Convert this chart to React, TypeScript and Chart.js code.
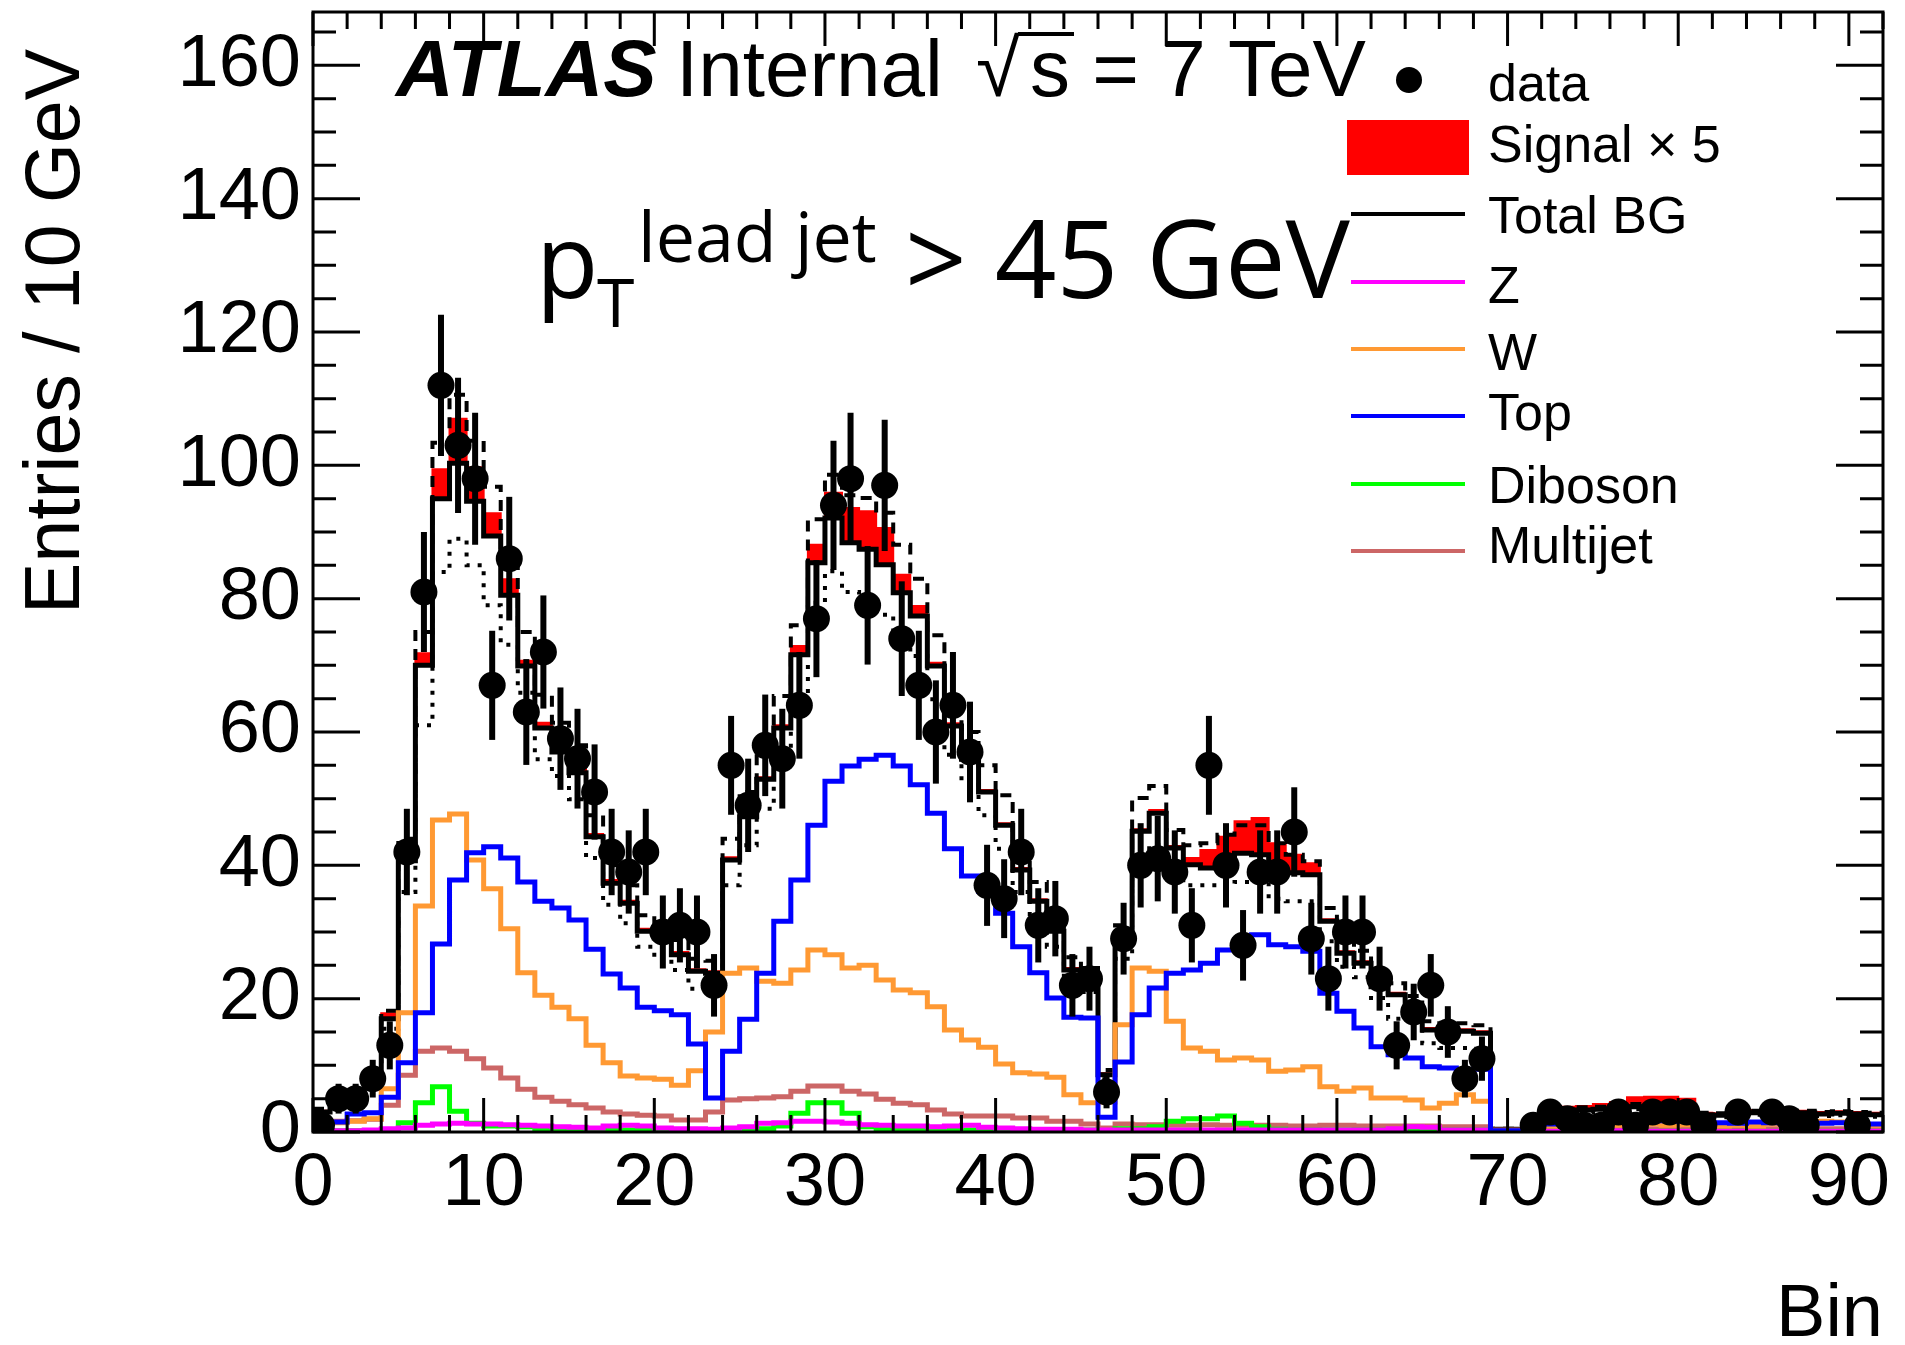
import React, { useEffect, useRef } from 'react';
import { Chart, registerables } from 'chart.js';

Chart.register(...registerables);

// ---------------- data (92 bins of width 1 from 0 to 92) ----------------
const NBINS = 92;

const dataCounts: (number | null)[] = [
  1, 5, 5, 8, 13, 42, 81, 112, 103, 98,
  67, 86, 63, 72, 59, 56, 51, 42, 39, 42,
  30, 31, 30, 22, 55, 49, 58, 56, 64, 77,
  94, 98, 79, 97, 74, 67, 60, 64, 57, 37,
  35, 42, 31, 32, 22, 23, 6, 29, 40, 41,
  39, 31, 55, 40, 28, 39, 39, 45, 29, 23,
  30, 30, 23, 13, 18, 22, 15, 8, 11, null,
  null, 1, 3, 2, 1, 1, 3, 1, 3, 3,
  3, 1, null, 3, null, 3, 2, 1, null, null,
  1, null,
];

const totalBG = [
  3, 4.5, 5, 8, 17, 40.7, 70, 95, 100.3, 94.6,
  89.4, 80.5, 69.9, 60.6, 57, 53.9, 44.3, 37.3, 34.3, 30.1,
  29.1, 26.6, 24.1, 23.8, 40.8, 47.3, 52.9, 60.6, 71.6, 85.4,
  92.1, 88.4, 87.4, 85.1, 80.9, 77.4, 69.9, 60.9, 55.9, 51,
  46, 39.3, 34.6, 30.1, 24.3, 22.8, 8.6, 28.5, 45.1, 47.8,
  42.6, 40.1, 39.6, 40.6, 41.8, 41.6, 39.6, 38.9, 38.6, 31.6,
  26.8, 25.3, 21.8, 20.6, 18.9, 15.3, 15.1, 15.1, 14.8, 0.4,
  0.4, 1.5, 3.0, 3.2, 3.3, 3.4, 3.5, 3.8, 3.8, 3.8,
  3.7, 2.6, 2.5, 2.8, 2.9, 2.8, 2.8, 2.9, 2.7, 2.8,
  2.7, 2.6,
];

const signalX5 = [
  0.2, 0.3, 0.3, 0.5, 0.8, 1.2, 1.8, 4.4, 6.7, 5.1,
  3.4, 2.4, 0.8, 0.8, 0.6, 0.5, 0.4, 0.5, 0.4, 0.4,
  0.4, 0.4, 0.3, 0.3, 0.4, 0.4, 0.3, 0.4, 1.3, 2.7,
  3.8, 5.2, 5.7, 5.5, 2.7, 1.5, 0.5, 0.4, 0.4, 0.3,
  0.3, 0.3, 0.3, 0.3, 0.3, 0.3, 0.2, 0.3, 0.3, 0.5,
  0.3, 1.0, 2.7, 3.7, 4.8, 5.5, 3.7, 2.7, 1.7, 0.3,
  0.3, 0.3, 0.3, 0.3, 0.3, 0.3, 0.3, 0.3, 0.3, 0.1,
  0.1, 0.3, 0.5, 0.6, 0.6, 0.8, 1.0, 1.4, 1.5, 1.5,
  1.3, 0.3, 0.3, 0.4, 0.4, 0.5, 0.4, 0.3, 0.3, 0.3,
  0.3, 0.3,
];

const bgUp = [
  3.5, 5, 5.5, 9, 18.2, 44, 75, 103.4, 110.6, 103.7,
  96.8, 86, 75, 65.6, 61.4, 58, 47.5, 40, 37, 32.5,
  31.5, 28.8, 26, 25.7, 44, 51, 57, 65.4, 76, 91.9,
  98.6, 95.5, 95.1, 92.9, 88.1, 83, 74.5, 65.5, 60, 55,
  50.5, 43, 37.5, 32.5, 26.2, 24.6, 9.3, 31, 50.1, 51.9,
  45.3, 43, 43.3, 44.6, 46, 46, 43.3, 41.6, 40.6, 33.6,
  28.8, 27.2, 23.5, 22.3, 20.4, 16.6, 16.4, 16.3, 16.0, 0.5,
  0.5, 1.7, 3.4, 3.6, 3.7, 3.8, 3.9, 4.2, 4.2, 4.2,
  4.1, 2.9, 2.8, 3.1, 3.2, 3.1, 3.1, 3.2, 3.0, 3.1,
  3.0, 2.9,
];

const bgDown = [
  2.5, 4, 4.5, 7, 15.5, 36, 61, 84, 89, 85,
  79, 73.1, 65.9, 55.9, 53.4, 49.9, 41.1, 34.1, 31.3, 27.8,
  26, 24.3, 21.5, 21, 37, 43, 48.5, 55.5, 65.5, 79.4,
  84.1, 81, 80.5, 77.6, 74.5, 71.4, 64.9, 56.6, 52.5, 47.5,
  42.5, 36, 31.8, 27.8, 22.4, 21, 7.9, 26, 41, 43,
  38.5, 37, 37, 37, 37.5, 37.5, 35, 34.6, 34.6, 28.6,
  24.8, 23.2, 20.1, 17, 16.8, 13.3, 12.6, 12.6, 12.5, 0.3,
  0.3, 1.3, 2.6, 2.8, 2.9, 3.0, 3.1, 3.4, 3.4, 3.4,
  3.3, 2.3, 2.2, 2.5, 2.6, 2.5, 2.5, 2.6, 2.4, 2.5,
  2.4, 2.3,
];

const zBG = [
  0.2, 0.2, 0.2, 0.3, 0.5, 0.6, 1.0, 1.2, 1.3, 1.2,
  1.2, 1.1, 1.0, 0.9, 0.8, 0.7, 0.6, 0.9, 1.0, 0.9,
  0.6, 0.5, 0.5, 0.4, 0.6, 0.8, 1.3, 1.4, 1.6, 1.6,
  1.5, 1.3, 1.1, 1.0, 0.9, 0.9, 0.8, 0.9, 1.0, 0.7,
  0.6, 0.5, 0.4, 0.4, 0.4, 0.3, 0.3, 0.3, 0.3, 0.3,
  0.3, 0.3, 0.3, 0.3, 0.3, 0.3, 0.3, 0.3, 0.3, 0.3,
  0.3, 0.3, 0.3, 0.5, 0.8, 0.7, 0.3, 0.3, 0.3, 0.1,
  0.1, 0.1, 0.1, 0.1, 0.3, 0.3, 0.2, 0.1, 0.1, 0.1,
  0.1, 0.1, 0.1, 0.1, 0.1, 0.1, 0.1, 0.1, 0.1, 0.1,
  0.1, 0.1,
];

const wBG = [
  1.2, 1.4, 1.6, 2.0, 6.5, 17.9, 33.9, 46.8, 47.7, 40.8,
  36.5, 30.5, 23.9, 20.5, 18.7, 17.0, 13.0, 10.4, 8.4, 8.1,
  7.9, 7.0, 9.2, 15.0, 23.8, 24.6, 22.6, 22.3, 24.3, 27.3,
  26.6, 24.6, 25.0, 22.8, 21.3, 20.9, 18.8, 15.3, 13.8, 12.7,
  10.2, 8.9, 8.7, 8.2, 5.6, 4.4, 4.5, 16.1, 24.6, 24.1,
  16.6, 12.6, 12.1, 10.8, 11.1, 10.8, 9.1, 9.3, 9.8, 6.8,
  6.1, 6.6, 5.1, 5.1, 4.8, 3.6, 4.3, 5.6, 4.6, 0.1,
  0.1, 0.4, 0.9, 1.0, 0.8, 1.1, 1.0, 0.9, 1.2, 1.0,
  1.1, 0.7, 0.9, 1.0, 0.9, 1.2, 1.4, 1.1, 1.6, 1.5,
  1.2, 1.0,
];

const topBG = [
  1.2, 1.5, 2.7, 2.9, 5.2, 10.4, 17.9, 28.2, 37.8, 41.9,
  42.8, 41.1, 37.5, 34.6, 33.6, 31.8, 27.4, 23.7, 21.6, 18.7,
  18.2, 17.6, 13.2, 5.1, 12.1, 16.9, 23.8, 31.6, 37.8, 46.0,
  52.6, 54.9, 55.9, 56.5, 54.9, 52.1, 47.8, 42.5, 38.4, 36.1,
  32.8, 27.8, 23.9, 20.1, 17.2, 17.1, 2.2, 10.5, 17.6, 21.6,
  23.8, 24.3, 25.3, 27.3, 28.8, 29.6, 28.1, 27.8, 27.1, 20.8,
  18.1, 15.6, 12.8, 11.6, 11.1, 9.8, 9.6, 9.1, 9.4, 0.2,
  0.2, 0.6, 1.2, 1.4, 1.3, 1.5, 1.5, 1.6, 1.8, 1.7,
  1.6, 1.3, 1.4, 1.3, 1.5, 1.4, 1.3, 1.2, 1.3, 1.4,
  1.3, 1.2,
];

const dibosonBG = [
  0.2, 0.2, 0.2, 0.2, 0.3, 1.4, 4.4, 6.8, 3.1, 1.3,
  0.9, 0.9, 0.8, 0.4, 0.3, 0.3, 0.3, 0.3, 0.3, 0.3,
  0.3, 0.3, 0.3, 0.3, 0.3, 0.4, 0.5, 0.9, 2.8, 4.4,
  4.4, 2.8, 0.8, 0.4, 0.3, 0.3, 0.3, 0.3, 0.3, 0.3,
  0.3, 0.3, 0.3, 0.3, 0.3, 0.3, 0.2, 0.5, 0.5, 0.8,
  1.6, 2.0, 2.0, 2.4, 1.3, 0.8, 0.4, 0.3, 0.3, 0.3,
  0.3, 0.3, 0.3, 0.3, 0.3, 0.3, 0.3, 0.3, 0.3, 0.1,
  0.1, 0.1, 0.1, 0.1, 0.1, 0.1, 0.1, 0.1, 0.1, 0.1,
  0.1, 0.1, 0.1, 0.1, 0.1, 0.1, 0.1, 0.1, 0.1, 0.1,
  0.1, 0.1,
];

const multijetBG = [
  1.5, 1.6, 1.7, 1.9, 4.0, 8.5, 12.1, 12.6, 12.1, 11.0,
  9.6, 8.1, 6.4, 5.2, 4.6, 4.1, 3.6, 3.0, 2.7, 2.5,
  2.4, 1.8, 1.8, 3.0, 4.8, 5.0, 5.1, 5.3, 6.1, 6.9,
  6.9, 6.1, 5.7, 4.9, 4.3, 4.1, 3.3, 2.7, 2.4, 2.4,
  2.4, 2.1, 2.1, 1.6, 1.6, 1.2, 0.6, 1.2, 1.1, 1.1,
  1.0, 1.0, 1.1, 1.0, 1.0, 1.0, 1.0, 0.9, 0.9, 1.0,
  1.0, 0.9, 0.9, 0.9, 0.9, 0.9, 0.8, 0.8, 0.8, 0.3,
  0.3, 0.5, 0.5, 0.5, 0.5, 0.5, 0.5, 0.5, 0.5, 0.5,
  0.5, 0.5, 0.5, 0.5, 0.5, 0.5, 0.5, 0.5, 0.5, 0.5,
  0.5, 0.5,
];

const xTicks = [0, 10, 20, 30, 40, 50, 60, 70, 80, 90];
const yTicks = [0, 20, 40, 60, 80, 100, 120, 140, 160];
const X_MAX = 92;
const Y_MAX = 168;

const legendLabels = ['data', 'Signal × 5', 'Total BG', 'Z', 'W', 'Top', 'Diboson', 'Multijet'];

// ---------------- styles ----------------
const FONT = '"Liberation Sans", Arial, Helvetica, sans-serif';
const FONT2 = '"Open Sans", "DejaVu Sans", sans-serif';
const C_Z = '#ff00ff';
const C_W = '#ff9933';
const C_TOP = '#0000ff';
const C_DIB = '#00ff00';
const C_MJ = '#cc6666';
const C_SIG = '#ff0000';
const LW = 5;

function stepPoints(vals: number[]) {
  const pts = vals.map((v, i) => ({ x: i, y: v }));
  pts.push({ x: vals.length, y: vals[vals.length - 1] });
  return pts;
}

const overlayPlugin = {
  id: 'rootOverlay',
  afterDatasetsDraw(chart: any) {
    const ctx = chart.ctx;
    const xs = chart.scales.x;
    const ys = chart.scales.y;
    ctx.save();
    ctx.strokeStyle = '#000';
    ctx.lineWidth = 6;
    ctx.lineCap = 'butt';
    dataCounts.forEach((n, i) => {
      if (n === null) return;
      const err = Math.sqrt(n);
      const px = xs.getPixelForValue(i + 0.5);
      ctx.beginPath();
      ctx.moveTo(px, ys.getPixelForValue(Math.max(0, n - err)));
      ctx.lineTo(px, ys.getPixelForValue(n + err));
      ctx.stroke();
    });
    ctx.restore();
  },
  afterDraw(chart: any) {
    const ctx = chart.ctx;
    const xs = chart.scales.x;
    const ys = chart.scales.y;
    const { left, right, top, bottom } = chart.chartArea;
    ctx.save();
    // frame
    ctx.strokeStyle = '#000';
    ctx.lineWidth = 3;
    ctx.strokeRect(left, top, right - left, bottom - top);
    // ticks (inside the frame, on all four sides)
    ctx.beginPath();
    for (let v = 0; v <= X_MAX; v += 2) {
      const px = xs.getPixelForValue(v);
      const len = v % 10 === 0 ? 34 : 17;
      ctx.moveTo(px, bottom);
      ctx.lineTo(px, bottom - len);
      ctx.moveTo(px, top);
      ctx.lineTo(px, top + len);
    }
    for (let v = 0; v <= Y_MAX; v += 5) {
      const py = ys.getPixelForValue(v);
      const len = v % 20 === 0 ? 47 : 23;
      ctx.moveTo(left, py);
      ctx.lineTo(left + len, py);
      ctx.moveTo(right, py);
      ctx.lineTo(right - len, py);
    }
    ctx.stroke();

    ctx.fillStyle = '#000';
    ctx.textBaseline = 'alphabetic';
    ctx.textAlign = 'left';
    // ATLAS label
    ctx.font = `italic bold 80px ${FONT}`;
    ctx.fillText('ATLAS', 396, 96);
    ctx.font = `80px ${FONT}`;
    ctx.fillText('Internal', 676, 96);
    ctx.fillText('√', 976, 96);
    const m = ctx.measureText('√');
    ctx.fillText('s = 7 TeV', 1030, 96);
    ctx.lineWidth = 4;
    const oy = 96 - m.actualBoundingBoxAscent + 2;
    ctx.beginPath();
    ctx.moveTo(976 + m.actualBoundingBoxRight - 2, oy);
    ctx.lineTo(1074, oy);
    ctx.stroke();

    // pT lead jet label
    ctx.font = `102px ${FONT2}`;
    ctx.fillText('p', 536, 298);
    ctx.font = `68px ${FONT2}`;
    ctx.fillText('T', 597, 327);
    ctx.font = `70px ${FONT2}`;
    ctx.fillText('lead jet', 638, 262);
    ctx.font = `108px ${FONT2}`;
    ctx.fillText('> 45 GeV', 905, 298);

    // axis titles
    ctx.font = `74px ${FONT}`;
    ctx.textAlign = 'right';
    ctx.fillText('Bin', right, 1336);
    ctx.save();
    ctx.translate(79, 49);
    ctx.rotate(-Math.PI / 2);
    ctx.font = `77px ${FONT}`;
    ctx.textAlign = 'right';
    ctx.fillText('Entries / 10 GeV', 0, 0);
    ctx.restore();

    // legend
    const symY = [80, 147, 214, 282, 349, 416, 484, 551];
    const txtY = [101, 162, 233, 303, 370, 430, 503, 563];
    const lineColors = [null, null, '#000', C_Z, C_W, C_TOP, C_DIB, C_MJ];
    const x0 = 1351;
    const x1 = 1465;
    ctx.textAlign = 'left';
    ctx.font = `52px ${FONT}`;
    legendLabels.forEach((label, i) => {
      if (i === 0) {
        ctx.beginPath();
        ctx.arc(1409, symY[i], 13, 0, Math.PI * 2);
        ctx.fill();
      } else if (i === 1) {
        ctx.fillStyle = C_SIG;
        ctx.fillRect(1347, 120, 122, 55);
        ctx.fillStyle = '#000';
      } else {
        ctx.strokeStyle = lineColors[i] as string;
        ctx.lineWidth = 4;
        ctx.beginPath();
        ctx.moveTo(x0, symY[i]);
        ctx.lineTo(x1, symY[i]);
        ctx.stroke();
      }
      ctx.fillStyle = '#000';
      ctx.fillText(label, 1488, txtY[i]);
    });
    ctx.restore();
  },
};

export default function App() {
  const ref = useRef<HTMLCanvasElement>(null);

  useEffect(() => {
    if (!ref.current) return;
    const sigTop = totalBG.map((t, i) => t + signalX5[i]);
    const dataPts = dataCounts
      .map((n, i) => (n === null ? null : { x: i + 0.5, y: n }))
      .filter((p) => p !== null) as { x: number; y: number }[];

    const lineDs = (label: string, vals: number[], color: string, order: number, extra: any = {}) => ({
      label,
      data: stepPoints(vals),
      stepped: true,
      borderColor: color,
      backgroundColor: color,
      borderWidth: LW,
      pointRadius: 0,
      pointHoverRadius: 0,
      fill: false,
      tension: 0,
      order,
      ...extra,
    });

    const zeroPad = (s: any) => {
      s.paddingTop = 0;
      s.paddingBottom = 0;
      s.paddingLeft = 0;
      s.paddingRight = 0;
    };

    const chart = new Chart(ref.current, {
      type: 'line',
      data: {
        datasets: [
          {
            label: 'data',
            type: 'scatter',
            data: dataPts,
            showLine: false,
            pointRadius: 13.5,
            pointHoverRadius: 13.5,
            pointBackgroundColor: '#000',
            pointBorderColor: '#000',
            pointBorderWidth: 0,
            order: 0,
          } as any,
          lineDs('Total BG', totalBG, '#000', 8),
          lineDs('Signal × 5', sigTop, C_SIG, 9, { borderWidth: 2, fill: 1, backgroundColor: C_SIG }),
          lineDs('BG up', bgUp, '#000', 6, { borderWidth: 4, borderDash: [11, 8] }),
          lineDs('BG down', bgDown, '#000', 7, { borderWidth: 4, borderDash: [4, 8] }),
          lineDs('Multijet', multijetBG, C_MJ, 5),
          lineDs('Diboson', dibosonBG, C_DIB, 4),
          lineDs('Z', zBG, C_Z, 3),
          lineDs('W', wBG, C_W, 2),
          lineDs('Top', topBG, C_TOP, 1),
        ],
      },
      options: {
        responsive: false,
        animation: false,
        devicePixelRatio: 1,
        events: [],
        layout: { autoPadding: false, padding: { left: 0, top: 12, right: 22, bottom: 0 } },
        plugins: {
          legend: { display: false },
          tooltip: { enabled: false },
          title: { display: false },
        },
        scales: {
          x: {
            type: 'linear',
            min: 0,
            max: X_MAX,
            grid: { display: false, drawTicks: false },
            border: { display: false },
            afterBuildTicks: (s: any) => {
              s.ticks = xTicks.map((v) => ({ value: v }));
            },
            afterFit: (s: any) => {
              s.height = 213;
              zeroPad(s);
            },
            ticks: {
              autoSkip: false,
              maxRotation: 0,
              minRotation: 0,
              padding: 16,
              color: '#000',
              font: { family: FONT, size: 74, lineHeight: 1 },
            },
          },
          y: {
            type: 'linear',
            min: 0,
            max: Y_MAX,
            grid: { display: false, drawTicks: false },
            border: { display: false },
            afterBuildTicks: (s: any) => {
              s.ticks = yTicks.map((v) => ({ value: v }));
            },
            afterFit: (s: any) => {
              s.width = 313;
              zeroPad(s);
            },
            ticks: {
              autoSkip: false,
              padding: 12,
              color: '#000',
              font: { family: FONT, size: 74, lineHeight: 1 },
            },
          },
        },
      } as any,
      plugins: [overlayPlugin],
    });

    let alive = true;
    if ((document as any).fonts && (document as any).fonts.ready) {
      (document as any).fonts.ready.then(() => {
        if (alive) chart.update();
      });
    }
    return () => {
      alive = false;
      chart.destroy();
    };
  }, []);

  return (
    <div style={{ position: 'absolute', left: 0, top: 0, width: 1905, height: 1345, background: '#fff' }}>
      <canvas ref={ref} width={1905} height={1345} style={{ display: 'block', width: 1905, height: 1345 }} />
    </div>
  );
}
